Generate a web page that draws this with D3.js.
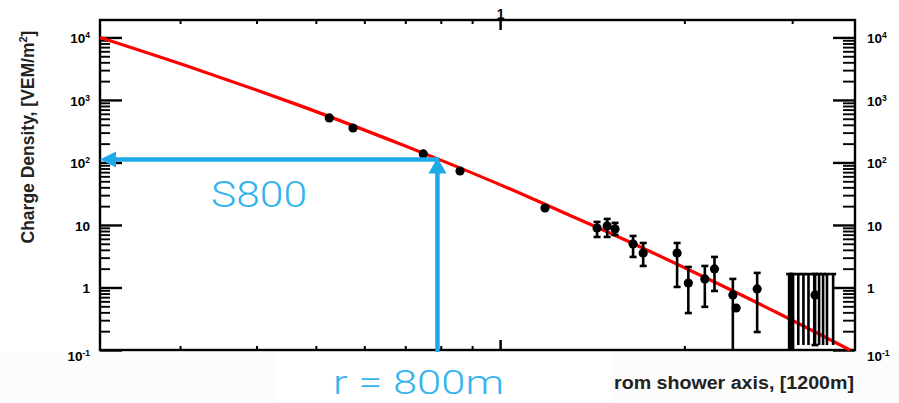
<!DOCTYPE html>
<html>
<head>
<meta charset="utf-8">
<script src="https://cdn.jsdelivr.net/npm/d3@7"></script>
<style>
  html, body { margin: 0; padding: 0; background: #ffffff; }
  svg { display: block; }
</style>
</head>
<body>
<svg id="chart" width="899" height="403"></svg>
<script>
// ---------------- data ----------------
const xDomain = [0.222, 3.8];          // distance from shower axis (units of 1000 m)
const yDomain = [0.1, 19000];          // charge density VEM/m^2

// fitted lateral distribution function (red curve)
const fitR = [0.222, 0.308, 0.405, 0.471, 0.687, 0.798, 1.12, 1.25, 1.585, 2.12, 2.82, 3.73];
const fitS = [10000, 3500, 1380, 811, 197, 110, 27.3, 16.9, 6.03, 1.58, 0.406, 0.1];

// measured station signals
const ptR   = [0.526, 0.575, 0.749, 0.860, 1.184, 1.44, 1.496, 1.541, 1.649, 1.713, 1.946, 2.03, 2.16, 2.24, 2.40, 2.43, 2.63, 3.27];
const ptS   = [515, 356, 137, 73, 18.7, 8.95, 9.64, 8.63, 4.97, 3.56, 3.56, 1.18, 1.37, 1.98, 0.76, 0.47, 0.95, 0.76];
const errHi = [null, null, null, null, null, 11.2, 12.5, 10.8, 6.67, 5.15, 5.15, 2.13, 2.21, 3.08, 1.37, null, 1.71, 1.64];
const errLo = [null, null, null, null, null, 6.43, 6.43, 6.92, 3.08, 2.21, 1.02, 0.39, 0.49, 0.88, 0.1, null, 0.194, 0.12];

// silent stations (upper-limit bars)
const limR  = [2.966, 2.99, 3.01, 3.07, 3.13, 3.19, 3.26, 3.32, 3.37, 3.42, 3.50];
const limHi = [1.64, 1.64, 1.64, 1.64, 1.64, 1.64, 1.64, 1.64, 1.64, 1.64, 1.64];
const limLo = [0.1, 0.1, 0.1, 0.12, 0.12, 0.12, 0.12, 0.12, 0.12, 0.12, 0.12];

// ticks
const yMajor = [0.1, 1, 10, 100, 1000, 10000];
const yMajorLabels = [["10", "-1"], ["1", ""], ["10", ""], ["10", "2"], ["10", "3"], ["10", "4"]];
const yMinor = [0.2,0.3,0.4,0.5,0.6,0.7,0.8,0.9, 2,3,4,5,6,7,8,9, 20,30,40,50,60,70,80,90,
                200,300,400,500,600,700,800,900, 2000,3000,4000,5000,6000,7000,8000,9000];
const xMajor = [1];
const xMinor = [0.3, 0.4, 0.5, 0.6, 0.7, 0.8, 0.9, 2, 3];

// annotation
const rRef = 0.79;       // r = 800 m marker
const s800 = 112;        // S800 value
const yTitle = "Charge Density, [VEM/m";
const xTitleVisible = "rom shower axis, [1200m]";

// ---------------- layout ----------------
const L = 100, R = 855, T = 20, B = 350;
const svg = d3.select("#chart");
const x = d3.scaleLog().domain(xDomain).range([L, R]);
const y = d3.scaleLog().domain(yDomain).range([B, T]);
const blue = "#1eaaea";
const font = "'Liberation Sans', Arial, sans-serif";

// very light band below the axis & white patch under r = 800m
svg.append("rect").attr("x", 0).attr("y", 352).attr("width", 899).attr("height", 51).attr("fill", "#fcfcfc");
svg.append("rect").attr("x", 275).attr("y", 352).attr("width", 338).attr("height", 51).attr("fill", "#ffffff");

// ---------------- axes ----------------
function styleAxis(g, w) {
  g.select(".domain").remove();
  g.selectAll(".tick line").attr("stroke", "#000").attr("stroke-width", w);
  g.selectAll("text").attr("font-family", font).attr("font-weight", "bold").attr("fill", "#000");
}
// left major
const gL = svg.append("g").attr("transform", `translate(${L},0)`)
  .call(d3.axisLeft(y).tickValues(yMajor).tickSize(-22).tickPadding(10).tickFormat(() => ""));
styleAxis(gL, 2.4);
// left minor
const gLm = svg.append("g").attr("transform", `translate(${L},0)`)
  .call(d3.axisLeft(y).tickValues(yMinor).tickSize(-10).tickFormat(() => ""));
styleAxis(gLm, 1.9);
// right major
const gR = svg.append("g").attr("transform", `translate(${R},0)`)
  .call(d3.axisRight(y).tickValues(yMajor).tickSize(-22).tickPadding(12).tickFormat(() => ""));
styleAxis(gR, 2.4);
const gRm = svg.append("g").attr("transform", `translate(${R},0)`)
  .call(d3.axisRight(y).tickValues(yMinor).tickSize(-12).tickFormat(() => ""));
styleAxis(gRm, 1.9);

// y tick labels with superscripts
function addLabels(g, anchor) {
  g.selectAll(".tick").each(function(d, i) {
    const t = d3.select(this).select("text");
    const lab = yMajorLabels[yMajor.indexOf(d)];
    t.text(null).attr("text-anchor", anchor).attr("font-size", 13.5).attr("dy", d === 0.1 ? "0.75em" : "0.4em");
    t.append("tspan").text(lab[0]);
    if (lab[1]) t.append("tspan").attr("font-size", 8.5).attr("dy", -5).text(lab[1]);
  });
}
addLabels(gL, "end");
addLabels(gR, "start");

// bottom axis
const gB = svg.append("g").attr("transform", `translate(0,${B})`)
  .call(d3.axisBottom(x).tickValues(xMinor).tickSize(-4).tickFormat(() => ""));
styleAxis(gB, 2);
const gBM = svg.append("g").attr("transform", `translate(0,${B})`)
  .call(d3.axisBottom(x).tickValues(xMajor).tickSize(-10).tickFormat(() => ""));
styleAxis(gBM, 2.5);
// top axis
const gT = svg.append("g").attr("transform", `translate(0,${T})`)
  .call(d3.axisTop(x).tickValues(xMinor).tickSize(-4).tickFormat(() => ""));
styleAxis(gT, 2);
const gTM = svg.append("g").attr("transform", `translate(0,${T})`)
  .call(d3.axisTop(x).tickValues(xMajor).tickSize(-10).tickPadding(1).tickFormat(d3.format("d")));
styleAxis(gTM, 2.5);
gTM.selectAll("text").attr("font-size", 14);

// frame
svg.append("rect").attr("x", L).attr("y", T).attr("width", R - L).attr("height", B - T)
  .attr("fill", "none").attr("stroke", "#000").attr("stroke-width", 2.4);

// ---------------- fit curve ----------------
const fit = fitR.map((r, i) => [r, fitS[i]]);
svg.append("path").datum(fit)
  .attr("d", d3.line().x(d => x(d[0])).y(d => y(d[1])).curve(d3.curveMonotoneX))
  .attr("fill", "none").attr("stroke", "#ff0000").attr("stroke-width", 3.2);

// ---------------- limit bars ----------------
const lims = limR.map((r, i) => ({ r, hi: limHi[i], lo: limLo[i] }));
const gLim = svg.append("g").attr("stroke", "#000").attr("stroke-width", 2.6);
gLim.selectAll("line.v").data(lims).join("line")
  .attr("x1", d => x(d.r)).attr("x2", d => x(d.r)).attr("y1", d => y(d.hi)).attr("y2", d => y(d.lo));
gLim.selectAll("line.c").data(lims).join("line")
  .attr("x1", d => x(d.r) - 3).attr("x2", d => x(d.r) + 3).attr("y1", d => y(d.hi)).attr("y2", d => y(d.hi));

// ---------------- points with error bars ----------------
const pts = ptR.map((r, i) => ({ r, s: ptS[i], hi: errHi[i], lo: errLo[i] }));
const eb = pts.filter(d => d.hi !== null);
const gE = svg.append("g").attr("stroke", "#000").attr("stroke-width", 2.6);
gE.selectAll("line.v").data(eb).join("line")
  .attr("x1", d => x(d.r)).attr("x2", d => x(d.r)).attr("y1", d => y(d.hi)).attr("y2", d => y(d.lo));
gE.selectAll("line.ch").data(eb).join("line")
  .attr("x1", d => x(d.r) - 3.5).attr("x2", d => x(d.r) + 3.5).attr("y1", d => y(d.hi)).attr("y2", d => y(d.hi));
gE.selectAll("line.cl").data(eb.filter(d => d.lo > 0.1)).join("line")
  .attr("x1", d => x(d.r) - 3.5).attr("x2", d => x(d.r) + 3.5).attr("y1", d => y(d.lo)).attr("y2", d => y(d.lo));
svg.append("g").selectAll("circle").data(pts).join("circle")
  .attr("cx", d => x(d.r)).attr("cy", d => y(d.s)).attr("r", 4.6).attr("fill", "#000");

// ---------------- annotation ----------------
const ax = x(rRef), ay = y(s800);
svg.append("line").attr("x1", L + 12).attr("x2", ax + 2).attr("y1", ay).attr("y2", ay)
  .attr("stroke", blue).attr("stroke-width", 4.5);
svg.append("path").attr("d", `M${L},${ay} L${L + 16},${ay - 8} L${L + 16},${ay + 8} Z`).attr("fill", blue);
svg.append("line").attr("x1", ax).attr("x2", ax).attr("y1", ay + 12).attr("y2", B + 2)
  .attr("stroke", blue).attr("stroke-width", 4.5);
svg.append("path").attr("d", `M${ax},${ay - 2} L${ax - 9},${ay + 14} L${ax + 9},${ay + 14} Z`).attr("fill", blue);

svg.append("text").attr("x", 211).attr("y", 207).text("S800")
  .attr("font-family", "Roboto, 'Open Sans', sans-serif").attr("font-weight", 300)
  .attr("font-size", 36).attr("fill", "#35b3ec").attr("textLength", 96).attr("lengthAdjust", "spacingAndGlyphs");
svg.append("text").attr("x", 333).attr("y", 394).text("r = 800m")
  .attr("font-family", "Roboto, 'Open Sans', sans-serif").attr("font-weight", 300)
  .attr("font-size", 33).attr("fill", "#35b3ec").attr("textLength", 171).attr("lengthAdjust", "spacingAndGlyphs");

// ---------------- axis titles ----------------
const yt = svg.append("text")
  .attr("transform", "translate(34,137) rotate(-90)")
  .attr("text-anchor", "middle").attr("font-family", font).attr("font-weight", "bold")
  .attr("font-size", 17.5).attr("fill", "#222");
yt.append("tspan").text(yTitle);
yt.append("tspan").attr("font-size", 11).attr("dy", -7).text("2");
yt.append("tspan").attr("dy", 7).text("]");

svg.append("text").attr("x", 614).attr("y", 389).text(xTitleVisible)
  .attr("font-family", font).attr("font-weight", "bold").attr("font-size", 18).attr("fill", "#222")
  .attr("textLength", 240).attr("lengthAdjust", "spacingAndGlyphs");
</script>
</body>
</html>
